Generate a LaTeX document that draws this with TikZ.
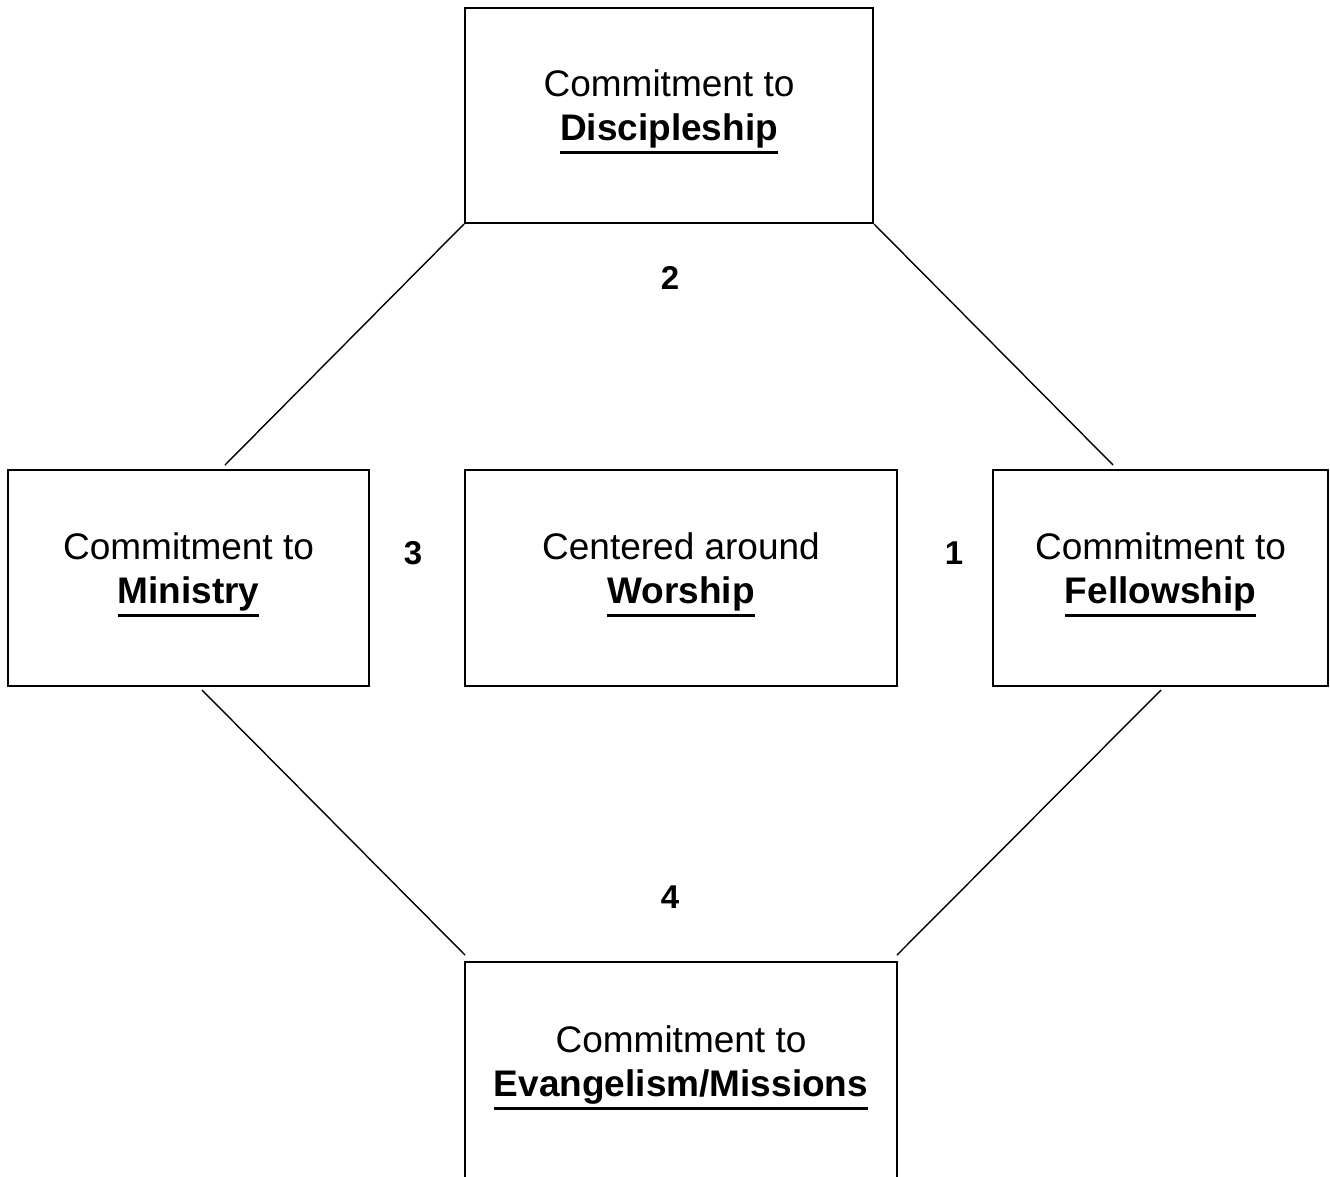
\documentclass[tikz,border=0pt]{standalone}
\usepackage{fontspec}
\setmainfont{Liberation Sans}
\newcommand\myul[1]{\leavevmode\vtop{\hbox{\textbf{#1}}\kern3.5pt\hrule height 3pt}}
\begin{document}
\begin{tikzpicture}[x=1pt,y=-1pt,
  box/.style={draw=black, line width=2pt, fill=white, inner sep=0pt},
  txt/.style={align=center, font=\fontsize{37}{44}\selectfont, inner sep=0pt},
  num/.style={font=\fontsize{33}{40}\selectfont\bfseries, inner sep=0pt},
  conn/.style={draw=black, line width=1.4pt}]
\useasboundingbox (0,0) rectangle (1330,1176);
\fill[white] (0,0) rectangle (1330,1176);
% boxes
\node[box, minimum width=408pt, minimum height=215pt] (top) at (669,115.5) {};
\node[box, minimum width=361pt, minimum height=216pt] (left) at (188.5,578) {};
\node[box, minimum width=432pt, minimum height=216pt] (center) at (681,578) {};
\node[box, minimum width=335pt, minimum height=216pt] (right) at (1160.5,578) {};
\node[box, minimum width=432pt, minimum height=230pt] (bottom) at (681,1077) {};
% texts
\node[txt, anchor=north] (ttop) at (669,69) {Commitment to\\\myul{Discipleship}};
\node[txt, anchor=north] (tleft) at (188.5,532) {Commitment to\\\myul{Ministry}};
\node[txt, anchor=north] (tcenter) at (681,532) {Centered around\\\myul{Worship}};
\node[txt, anchor=north] (tright) at (1160.5,532) {Commitment to\\\myul{Fellowship}};
\node[txt, anchor=north] (tbottom) at (681,1025) {Commitment to\\\myul{Evangelism/Missions}};
% numbers
\node[num] (n2) at (670,278) {2};
\node[num] (n3) at (413,553) {3};
\node[num] (n1) at (954,553) {1};
\node[num] (n4) at (670,897) {4};
% connector ends
\coordinate (a1) at (225,465);
\coordinate (b1) at (1113,465);
\coordinate (c0) at (202,690);
\coordinate (c1) at (465,955);
\coordinate (d0) at (1161,690);
\coordinate (d1) at (897,955);
\draw[conn] (top.south west) -- (a1);
\draw[conn] (top.south east) -- (b1);
\draw[conn] (c0) -- (c1);
\draw[conn] (d0) -- (d1);
\end{tikzpicture}
\end{document}
